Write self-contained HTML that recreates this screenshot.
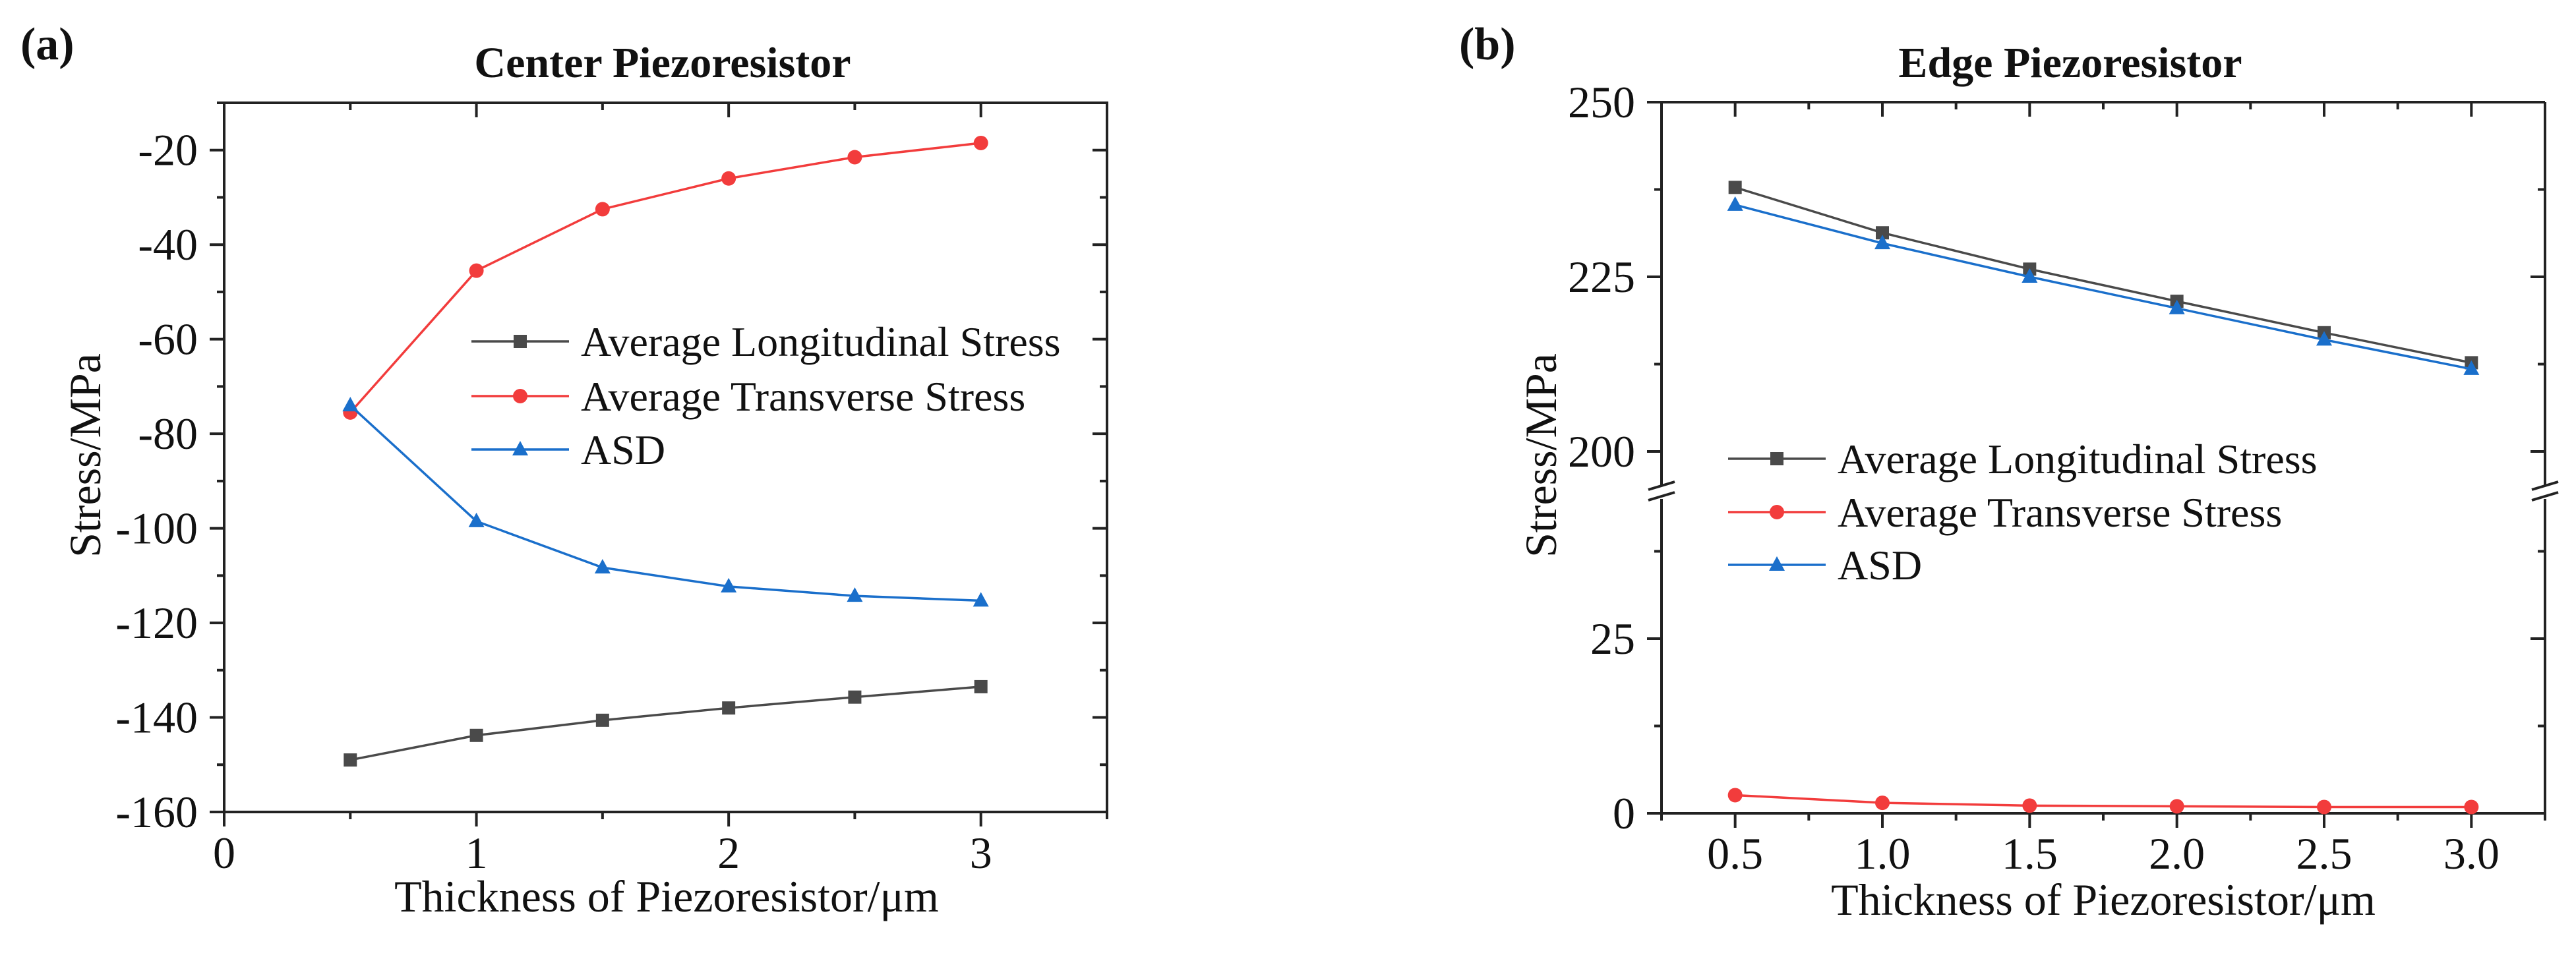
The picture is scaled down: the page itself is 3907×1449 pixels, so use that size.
<!DOCTYPE html>
<html><head><meta charset="utf-8"><style>
html,body{margin:0;padding:0;background:#fff}
svg{display:block}
text{font-family:"Liberation Serif",serif;fill:#111}
</style></head><body>
<svg id="s" width="3907" height="1449" viewBox="0 0 3907 1449" xmlns="http://www.w3.org/2000/svg"></svg>
<script>
const xCats = [0.5, 1.0, 1.5, 2.0, 2.5, 3.0];
const aLong = [-149, -143.8, -140.6, -138, -135.7, -133.5];
const aTrans = [-75.5, -45.5, -32.5, -26, -21.5, -18.5];
const aASD = [-74, -98.5, -108.3, -112.3, -114.3, -115.3];
const bLong = [237.8, 231.3, 226.1, 221.5, 217, 212.7];
const bTrans = [2.6, 1.5, 1.1, 1.0, 0.9, 0.9];
const bASD = [235.3, 229.8, 225, 220.5, 216, 211.8];
const aYTicks = [-160, -140, -120, -100, -80, -60, -40, -20];
const aXTicks = [0, 1, 2, 3];
const bYTicksUpper = [200, 225, 250];
const bYTicksLower = [0, 25];
const bXTicks = [0.5, 1.0, 1.5, 2.0, 2.5, 3.0];
const seriesNames = ["Average Longitudinal Stress", "Average Transverse Stress", "ASD"];

const NS = "http://www.w3.org/2000/svg";
const svg = document.getElementById('s');
const COL = ["#4a4a4a", "#f23c3c", "#1a6fcb"];
const FS = 68;
function el(tag, attrs, parent, txt) {
  const e = document.createElementNS(NS, tag);
  for (const k in attrs) e.setAttribute(k, attrs[k]);
  if (txt !== undefined) e.textContent = txt;
  (parent || svg).appendChild(e);
  return e;
}
function marker(g, type, x, y, c) {
  let m;
  if (type === 0) m = el('rect', {x: x-10, y: y-10, width: 20, height: 20, fill: c}, g);
  else if (type === 1) m = el('circle', {cx: x, cy: y, r: 11, fill: c}, g);
  else m = el('polygon', {points: `${x},${y-13} ${x-12},${y+9} ${x+12},${y+9}`, fill: c}, g);
  
  
}
function series(g, xs, ys, fx, fy, type, name) {
  const sg = el('g', {}, g);
  
  
  const pts = xs.map((v, i) => fx(v) + ',' + fy(ys[i])).join(' ');
  el('polyline', {points: pts, fill: 'none', stroke: COL[type], 'stroke-width': 3.5}, sg);
  xs.forEach((v, i) => marker(sg, type, fx(v), fy(ys[i]), COL[type]));
}
function legend(g, x0, ys) {
  const lg = el('g', {}, g);
  
  
  ys.forEach((y, i) => {
    const e = el('g', {}, lg);
    
    
    el('line', {x1: x0, x2: x0+148, y1: y, y2: y, stroke: COL[i], 'stroke-width': 3.5}, e);
    marker(e, i, x0+74, y, COL[i]);
    el('text', {x: x0+166, y: y+22, 'font-size': 64}, e, seriesNames[i]);
  });
}

/* ---------- Chart (a) ---------- */
const ga = el('g', {});


const aL = 340, aR = 1679, aT = 156, aB = 1232;
const ax = v => aL + (v - 0) / 3.5 * (aR - aL);
const ay = v => aB - (v + 160) / 150 * (aB - aT);
el('rect', {x: aL, y: aT, width: aR-aL, height: aB-aT, fill: 'none', stroke: '#222', 'stroke-width': 4}, ga);
for (let v = -160; v <= -10; v += 10) {
  const major = v % 20 === 0, L = major ? 22 : 11;
  el('line', {x1: aL-L, x2: aL, y1: ay(v), y2: ay(v), stroke: '#222', 'stroke-width': 4}, ga);
  el('line', {x1: aR-L, x2: aR, y1: ay(v), y2: ay(v), stroke: '#222', 'stroke-width': 4}, ga);
}
for (let v = 0; v <= 3.5; v += 0.5) {
  const major = v % 1 === 0, L = major ? 22 : 11;
  el('line', {x1: ax(v), x2: ax(v), y1: aB, y2: aB+L, stroke: '#222', 'stroke-width': 4}, ga);
  el('line', {x1: ax(v), x2: ax(v), y1: aT, y2: aT+L, stroke: '#222', 'stroke-width': 4}, ga);
}
aYTicks.forEach(v => { const t = el('text', {x: 300, y: ay(v)+23, 'text-anchor': 'end', 'font-size': FS}, ga, String(v));   });
aXTicks.forEach(v => { const t = el('text', {x: ax(v), y: 1317, 'text-anchor': 'middle', 'font-size': FS}, ga, String(v));   });
let t;
t = el('text', {x: 31, y: 90, 'font-size': 70, 'font-weight': 'bold'}, ga, '(a)');  
t = el('text', {x: 1005, y: 117, 'font-size': 66, 'font-weight': 'bold', 'text-anchor': 'middle'}, ga, 'Center Piezoresistor');  
t = el('text', {x: 1011, y: 1383, 'font-size': FS, 'text-anchor': 'middle'}, ga, 'Thickness of Piezoresistor/μm');  
t = el('text', {x: 0, y: 0, 'font-size': FS, 'text-anchor': 'middle', transform: 'translate(152,691) rotate(-90)'}, ga, 'Stress/MPa');  
series(ga, xCats, aLong, ax, ay, 0, 'series-longitudinal');
series(ga, xCats, aTrans, ax, ay, 1, 'series-transverse');
series(ga, xCats, aASD, ax, ay, 2, 'series-asd');
legend(ga, 715, [518, 601, 682]);

/* ---------- Chart (b) ---------- */
const gb = el('g', {});


const bL = 2520, bR = 3860, bT = 155, bB = 1234, pxu = 10.6, brk = 747;
const bx = v => bL + (v - 0.25) / 3 * (bR - bL);
const by = v => v > 100 ? 155 + (250 - v) * pxu : 1234 - v * pxu;
el('line', {x1: bL, x2: bR, y1: bT, y2: bT, stroke: '#222', 'stroke-width': 4}, gb);
el('line', {x1: bL, x2: bR, y1: bB, y2: bB, stroke: '#222', 'stroke-width': 4}, gb);
[bL, bR].forEach(x => {
  el('line', {x1: x, x2: x, y1: bT, y2: brk-10, stroke: '#222', 'stroke-width': 4}, gb);
  el('line', {x1: x, x2: x, y1: brk+10, y2: bB, stroke: '#222', 'stroke-width': 4}, gb);
  el('line', {x1: x-20, x2: x+20, y1: brk-4, y2: brk-16, stroke: '#222', 'stroke-width': 4}, gb);
  el('line', {x1: x-20, x2: x+20, y1: brk+12, y2: brk, stroke: '#222', 'stroke-width': 4}, gb);
});
[200, 212.5, 225, 237.5, 250, 0, 12.5, 25, 37.5].forEach(v => {
  const L = (v % 25 === 0) ? 22 : 11;
  el('line', {x1: bL-L, x2: bL, y1: by(v), y2: by(v), stroke: '#222', 'stroke-width': 4}, gb);
  el('line', {x1: bR-L, x2: bR, y1: by(v), y2: by(v), stroke: '#222', 'stroke-width': 4}, gb);
});
for (let v = 0.25; v <= 3.26; v += 0.25) {
  const major = Math.abs((v * 2) % 1) < 0.01, L = major ? 22 : 11;
  el('line', {x1: bx(v), x2: bx(v), y1: bB, y2: bB+L, stroke: '#222', 'stroke-width': 4}, gb);
  el('line', {x1: bx(v), x2: bx(v), y1: bT, y2: bT+L, stroke: '#222', 'stroke-width': 4}, gb);
}
bYTicksUpper.concat(bYTicksLower).forEach(v => { const t = el('text', {x: 2480, y: by(v)+23, 'text-anchor': 'end', 'font-size': FS}, gb, String(v));   });
bXTicks.forEach(v => { const t = el('text', {x: bx(v), y: 1318, 'text-anchor': 'middle', 'font-size': FS}, gb, v.toFixed(1));   });
t = el('text', {x: 2213, y: 90, 'font-size': 70, 'font-weight': 'bold'}, gb, '(b)');  
t = el('text', {x: 3140, y: 117, 'font-size': 66, 'font-weight': 'bold', 'text-anchor': 'middle'}, gb, 'Edge Piezoresistor');  
t = el('text', {x: 3190, y: 1388, 'font-size': FS, 'text-anchor': 'middle'}, gb, 'Thickness of Piezoresistor/μm');  
t = el('text', {x: 0, y: 0, 'font-size': FS, 'text-anchor': 'middle', transform: 'translate(2360,691) rotate(-90)'}, gb, 'Stress/MPa');  
series(gb, xCats, bLong, bx, by, 0, 'series-longitudinal');
series(gb, xCats, bTrans, bx, by, 1, 'series-transverse');
series(gb, xCats, bASD, bx, by, 2, 'series-asd');
legend(gb, 2621, [696, 777, 857]);
</script>
</body></html>
